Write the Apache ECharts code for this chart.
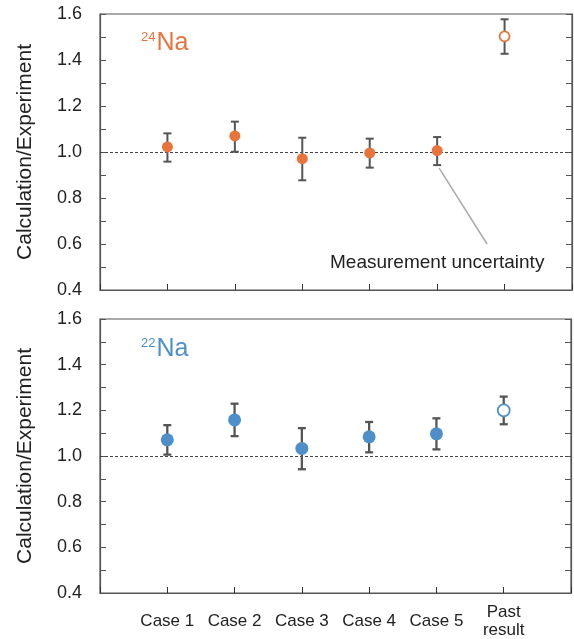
<!DOCTYPE html>
<html lang="en">

<head>
    <meta charset="UTF-8">
    <title>Calculation/Experiment</title>
    <script src="https://cdn.jsdelivr.net/npm/echarts@6/dist/echarts.min.js"></script>
    <style>
        body {
            margin: 0;
        }

        #root {
            width: 574px;
            height: 639px;
        }
    </style>
</head>

<body>

    <div id="root"></div>
    <script>

        // x positions 1..6
        var categories = ['Case 1', 'Case 2', 'Case 3', 'Case 4', 'Case 5', 'Past\nresult'];

        // 24Na: value, low, high
        var na24Value = [1.022, 1.070, 0.971, 0.996, 1.006, 1.503];
        var na24Low = [0.958, 1.001, 0.877, 0.932, 0.943, 1.427];
        var na24High = [1.081, 1.132, 1.062, 1.058, 1.065, 1.577];

        // 22Na
        var na22Value = [1.071, 1.158, 1.033, 1.084, 1.097, 1.200];
        var na22Low = [1.006, 1.087, 0.942, 1.016, 1.029, 1.139];
        var na22High = [1.135, 1.229, 1.122, 1.149, 1.165, 1.260];

        var ORANGE = '#e8743b';
        var BLUE = '#4f8fc9';
        var AXIS = '#555';
        var FONT = '"Liberation Sans", Arial, sans-serif';

        function pts(values, from, to) {
            var out = [];
            for (var i = from; i < to; i++) out.push([i + 1, values[i]]);
            return out;
        }

        function bars(low, high) {
            return low.map(function (l, i) { return [i + 1, l, high[i]]; });
        }

        function errorSeries(idx, low, high, w) {
            return {
                type: 'custom',
                xAxisIndex: idx,
                yAxisIndex: idx * 2,
                data: bars(low, high),
                z: 2,
                renderItem: function (params, api) {
                    var lo = api.coord([api.value(0), api.value(1)]);
                    var hi = api.coord([api.value(0), api.value(2)]);
                    var c = 4;
                    var st = { stroke: AXIS, lineWidth: w };
                    return {
                        type: 'group',
                        children: [
                            { type: 'line', shape: { x1: lo[0], y1: lo[1], x2: hi[0], y2: hi[1] }, style: st },
                            { type: 'line', shape: { x1: lo[0] - c, y1: lo[1], x2: lo[0] + c, y2: lo[1] }, style: st },
                            { type: 'line', shape: { x1: hi[0] - c, y1: hi[1], x2: hi[0] + c, y2: hi[1] }, style: st }
                        ]
                    };
                }
            };
        }

        function grid(top) {
            return {
                left: 100, right: 2, top: top, height: 276,
                show: true, borderColor: AXIS, borderWidth: 1.2
            };
        }

        function xAxis(idx, withLabels) {
            return {
                type: 'value', gridIndex: idx, min: 0, max: 7, interval: 1,
                axisLine: { lineStyle: { color: AXIS, width: 1.2 } },
                axisTick: { inside: true, length: 6, lineStyle: { color: '#333' } },
                splitLine: { show: false },
                axisLabel: {
                    show: withLabels, margin: 28, verticalAlign: 'middle',
                    color: '#222', fontFamily: FONT, fontSize: 17, lineHeight: 18,
                    formatter: function (v) { return categories[v - 1] || ''; }
                }
            };
        }

        function yAxes(idx) {
            var base = {
                type: 'value', gridIndex: idx, min: 0.4, max: 1.6, interval: 0.1,
                axisLine: { lineStyle: { color: AXIS, width: 1.2 } },
                axisTick: { inside: true, length: 6, lineStyle: { color: AXIS } },
                splitLine: { show: false }
            };
            var left = Object.assign({}, base, {
                position: 'left',
                name: 'Calculation/Experiment', nameLocation: 'middle', nameGap: 64,
                nameTextStyle: { color: '#222', fontFamily: FONT, fontSize: 21 },
                axisLabel: {
                    margin: 18, color: '#222', fontFamily: FONT, fontSize: 18,
                    formatter: function (v) {
                        var t = Math.round(v * 10);
                        return t % 2 === 0 ? (t / 10).toFixed(1) : '';
                    }
                }
            });
            var right = Object.assign({}, base, { position: 'right', axisLabel: { show: false } });
            return [left, right];
        }

        function nuclide(idx, color, values, size) {
            return [{
                type: 'scatter', xAxisIndex: idx, yAxisIndex: idx * 2,
                data: pts(values, 0, 5), symbolSize: size, z: 3,
                itemStyle: { color: color, opacity: 1 },
                markLine: {
                    silent: true, symbol: 'none', z: 1,
                    lineStyle: { color: '#444', type: [3, 2], width: 1 },
                    label: { show: false },
                    data: [{ yAxis: 1 }]
                }
            }, {
                type: 'scatter', xAxisIndex: idx, yAxisIndex: idx * 2,
                data: pts(values, 5, 6), symbolSize: size - 1, z: 3,
                itemStyle: { color: '#fff', borderColor: color, borderWidth: 1.8, opacity: 1 }
            }];
        }

        function label(sup, color) {
            return {
                text: '{s|' + sup + '}{n|Na}',
                textStyle: {
                    fontWeight: 'normal',
                    rich: {
                        s: { fontFamily: FONT, fontSize: 13, fontWeight: 'normal', color: color, verticalAlign: 'top', padding: [0, 1, 0, 0] },
                        n: { fontFamily: FONT, fontSize: 25, fontWeight: 'normal', color: color }
                    }
                }
            };
        }

        var mychart = echarts.init(document.getElementById('root'));

        var y0 = yAxes(0), y1 = yAxes(1);

        var series = [].concat(
            errorSeries(0, na24Low, na24High, 2),
            nuclide(0, ORANGE, na24Value, 11),
            errorSeries(1, na22Low, na22High, 2.3),
            nuclide(1, BLUE, na22Value, 13)
        );

        // annotation pointer
        series.push({
            type: 'line', xAxisIndex: 0, yAxisIndex: 0, data: [],
            markLine: {
                silent: true, symbol: 'none',
                lineStyle: { color: '#aaa', type: 'solid', width: 1.5 },
                label: { show: false },
                data: [[{ coord: [5.03, 0.93] }, { coord: [5.74, 0.6] }]]
            }
        });

        var t24 = label('24', ORANGE);
        t24.left = 136; t24.top = 26;
        var t22 = label('22', BLUE);
        t22.left = 136; t22.top = 332;

        mychart.setOption({
            animation: false,
            backgroundColor: '#fff',
            grid: [grid(14), grid(319)],
            xAxis: [xAxis(0, false), xAxis(1, true)],
            yAxis: [y0[0], y0[1], y1[0], y1[1]],
            title: [t24, t22],
            graphic: [{
                type: 'text', left: 330, top: 253,
                style: { text: 'Measurement uncertainty', fill: '#222', font: '19px ' + FONT }
            }],
            series: series
        });

    </script>

</body>

</html>
